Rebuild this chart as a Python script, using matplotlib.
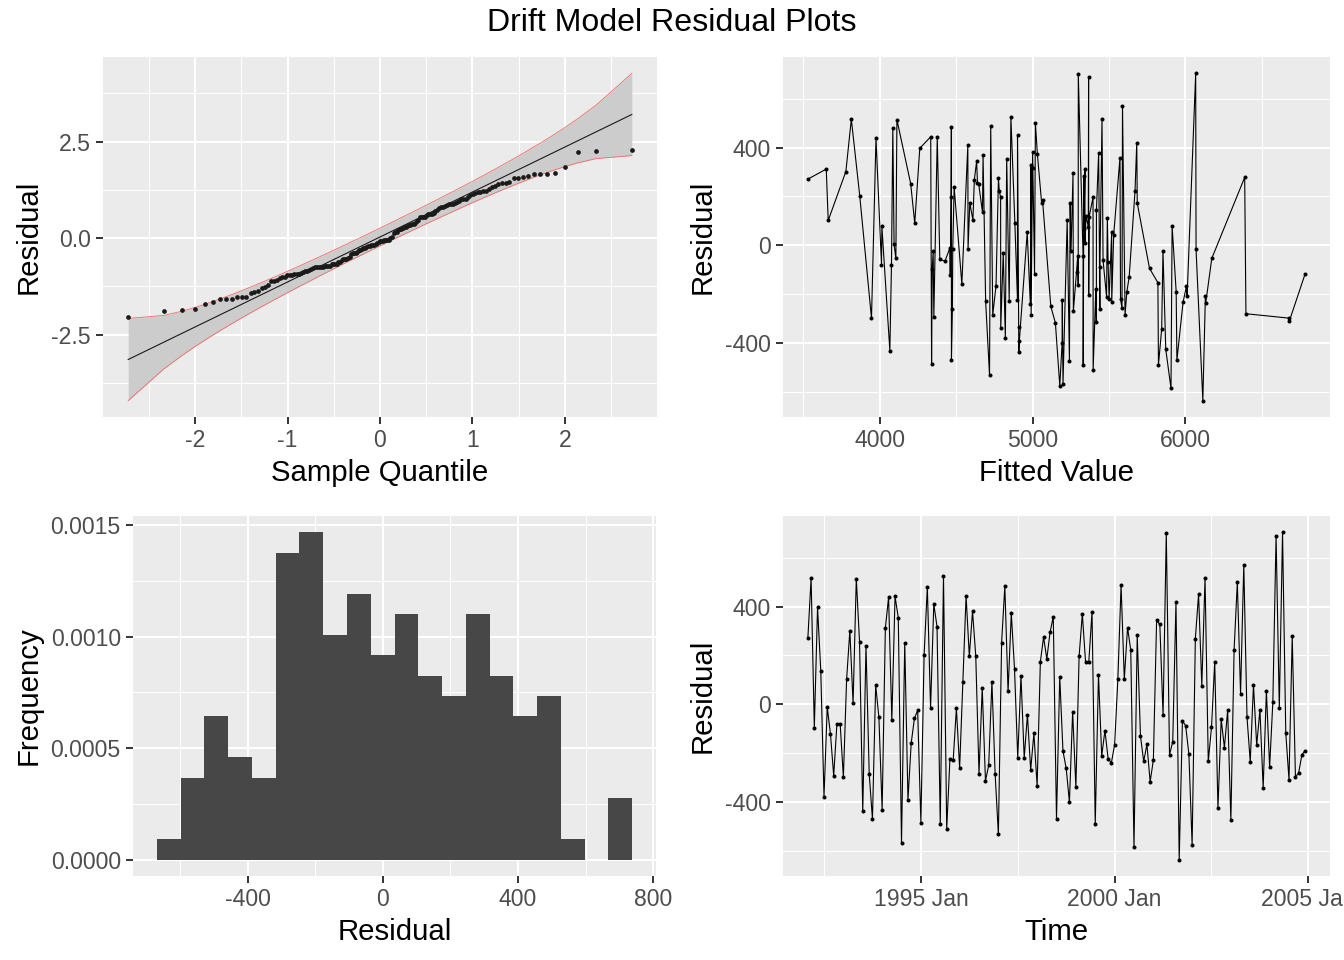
import numpy as np
import matplotlib
matplotlib.use("Agg")
import matplotlib.pyplot as plt
from matplotlib.ticker import FixedLocator, FormatStrFormatter
from statistics import NormalDist

plt.rcParams['font.family'] = ['Liberation Sans', 'DejaVu Sans']
plt.rcParams['axes.unicode_minus'] = False

# ---------------- data ----------------
residuals = [271, 516, -95, 397, 136, -377, -11, -121, -291, -79,
             -79, -297, 102, 302, 5, 514, 257, -437, 239, -284,
             -469, 78, -53, -430, 312, 438, -64, 441, 355, -566,
             253, -390, -158, -57, -24, -484, 203, 479, -15, 410,
             318, -487, 525, -509, -222, -229, -16, -260, 91, 444,
             196, 382, 196, -283, 68, -312, -249, 93, -286, -530,
             253, 483, 53, 373, 144, -219, 117, -219, -42, -268,
             -118, -333, 174, 275, 186, 294, 359, -469, 114, -190,
             -261, -399, -30, -339, 196, 370, 173, 173, 378, -488,
             121, -210, -107, -223, -238, -165, 103, 487, 103, 314,
             222, -584, 283, -128, -233, -163, -316, -227, 343, 327,
             -45, 699, -205, -152, 419, -634, -67, -87, -203, -573,
             269, 450, 76, 517, -233, -94, 173, -424, -61, -176,
             -24, -473, 223, 499, 44, 571, -53, -234, 80, -167,
             -22, -341, 54, -256, 10, 690, -16, 703, -116, -307,
             278, -297, -279, -205, -189]

fitted = [3529.0, 3813.6, 4343.2, 4261.8, 4672.4, 4822.0, 4458.6, 4461.2, 4353.8, 4076.4,
          4011.0, 3945.6, 3662.2, 3777.8, 4093.4, 4112.0, 4639.6, 4910.2, 4486.8, 4739.4,
          4469.0, 4013.6, 4105.2, 4065.8, 3649.4, 3975.0, 4426.6, 4376.2, 4830.8, 5199.4,
          4647.0, 4913.6, 4537.2, 4392.8, 4349.4, 4339.0, 3868.6, 4085.2, 4577.8, 4576.4,
          5000.0, 5331.6, 4858.2, 5396.8, 4901.4, 4693.0, 4477.6, 4475.2, 4228.8, 4333.4,
          4791.0, 5000.6, 5396.2, 5605.8, 5336.4, 5418.0, 5119.6, 4884.2, 4990.8, 4718.4,
          4202.0, 4468.6, 4965.2, 5031.8, 5418.4, 5576.0, 5370.6, 5501.2, 5295.8, 5267.4,
          5013.0, 4908.6, 4589.2, 4776.8, 5065.4, 5265.0, 5572.6, 5945.2, 5489.8, 5617.4,
          5441.0, 5193.6, 4808.2, 4791.8, 4466.4, 4676.0, 5059.6, 5246.2, 5432.8, 5824.4,
          5350.0, 5484.6, 5288.2, 5194.8, 4985.4, 4761.0, 4609.6, 4726.2, 5226.8, 5343.4,
          5671.0, 5906.6, 5336.2, 5632.8, 5518.4, 5299.0, 5149.6, 4847.2, 4633.8, 4990.4,
          5331.0, 5299.6, 6012.2, 5820.8, 5682.4, 6115.0, 5494.6, 5441.2, 5367.8, 5178.4,
          4619.0, 4901.6, 5365.2, 5454.8, 5985.4, 5766.0, 5685.6, 5872.2, 5461.8, 5414.4,
          5252.0, 5241.6, 4782.2, 5018.8, 5531.4, 5589.0, 6173.6, 6134.2, 5913.8, 6007.4,
          5854.0, 5845.6, 5518.2, 5585.8, 5343.4, 5367.0, 6070.6, 6068.2, 6784.8, 6682.4,
          6389.0, 6680.6, 6397.2, 6131.8, 5940.4]

start_year, start_month = 1992, 2          # first residual: 1992 Feb (monthly)
time_ticks = [1995, 2000, 2005]
time_tick_labels = ["1995 Jan", "2000 Jan", "2005 Jan"]
n_bins = 20

# ---------------- derived quantities ----------------
e = np.array(residuals, dtype=float)
n = len(e)
fv = np.array(fitted, dtype=float)
t = start_year + (np.arange(n) + start_month - 1) / 12.0

nd = NormalDist()
std_res = np.sort((e - e.mean()) / e.std(ddof=1))
pp = (np.arange(1, n + 1) - 0.5) / n
zq = np.array([nd.inv_cdf(v) for v in pp])
q25, q75 = np.quantile(std_res, [0.25, 0.75])
z25, z75 = nd.inv_cdf(0.25), nd.inv_cdf(0.75)
slope = (q75 - q25) / (z75 - z25)
intercept = q25 - slope * z25
qq_line = intercept + slope * zq
dens = np.array([nd.pdf(v) for v in zq])
se = slope / dens * np.sqrt(pp * (1 - pp) / n)
crit = nd.inv_cdf(0.975)
band_hi = qq_line + crit * se
band_lo = qq_line - crit * se

bw = (e.max() - e.min()) / (n_bins - 1)
edges = e.min() - bw / 2 + bw * np.arange(n_bins + 1)

# ---------------- figure ----------------
W, H = 1344, 960
fig = plt.figure(figsize=(W / 100, H / 100), dpi=100)
fig.patch.set_facecolor('white')

TICK_FS = 16.6
LAB_FS = 21.2


def add_ax(l, top, r, b):
    return fig.add_axes([l / W, 1 - b / H, (r - l) / W, (b - top) / H])


def style(ax):
    ax.set_facecolor('#EBEBEB')
    for s in ax.spines.values():
        s.set_visible(False)
    ax.grid(which='major', color='white', lw=1.5)
    ax.grid(which='minor', color='white', lw=0.75)
    ax.set_axisbelow(True)
    ax.tick_params(which='major', direction='out', length=5.3, width=1.4,
                   color='#333333', labelcolor='#4D4D4D', labelsize=TICK_FS, pad=3.5)
    ax.tick_params(which='minor', length=0)
    ax.use_sticky_edges = False
    ax.margins(0.05)


# --- top left: QQ plot ---
ax1 = add_ax(103, 57, 657, 417)
style(ax1)
ax1.fill_between(zq, band_lo, band_hi, color='#CCCCCC', lw=0, zorder=2)
ax1.plot(zq, band_hi, color='#F26B6B', lw=0.6, zorder=3)
ax1.plot(zq, band_lo, color='#F26B6B', lw=0.6, zorder=3)
ax1.plot(zq, qq_line, color='#1A1A1A', lw=0.8, zorder=4)
ax1.plot(zq, std_res, 'o', color='#1A1A1A', ms=3.4, mew=0, zorder=5)
ax1.xaxis.set_major_locator(FixedLocator([-2, -1, 0, 1, 2]))
ax1.xaxis.set_minor_locator(FixedLocator([-2.5, -1.5, -0.5, 0.5, 1.5, 2.5]))
ax1.yaxis.set_major_locator(FixedLocator([-2.5, 0, 2.5]))
ax1.yaxis.set_minor_locator(FixedLocator([-3.75, -1.25, 1.25, 3.75]))
ax1.yaxis.set_major_formatter(FormatStrFormatter('%.1f'))
ax1.set_xlabel('Sample Quantile', fontsize=LAB_FS, labelpad=5)
ax1.set_ylabel('Residual', fontsize=LAB_FS, labelpad=6)

# --- top right: residual vs fitted ---
ax2 = add_ax(783, 57, 1330, 417)
style(ax2)
order = np.argsort(fv, kind='stable')
ax2.plot(fv[order], e[order], color='black', lw=0.8, zorder=3)
ax2.plot(fv[order], e[order], 'o', color='black', ms=2.9, mew=0, zorder=4)
ax2.xaxis.set_major_locator(FixedLocator([4000, 5000, 6000]))
ax2.xaxis.set_minor_locator(FixedLocator([3500, 4500, 5500, 6500]))
ax2.yaxis.set_major_locator(FixedLocator([-400, 0, 400]))
ax2.yaxis.set_minor_locator(FixedLocator([-600, -200, 200, 600]))
ax2.set_xlabel('Fitted Value', fontsize=LAB_FS, labelpad=5)
ax2.set_ylabel('Residual', fontsize=LAB_FS, labelpad=6)

# --- bottom left: histogram ---
ax3 = add_ax(133, 516, 656, 876)
style(ax3)
ax3.hist(e, bins=edges, density=True, histtype='stepfilled',
         facecolor='#474747', lw=0, zorder=3)
ax3.xaxis.set_major_locator(FixedLocator([-400, 0, 400, 800]))
ax3.xaxis.set_minor_locator(FixedLocator([-600, -200, 200, 600]))
ax3.yaxis.set_major_locator(FixedLocator([0, 0.0005, 0.0010, 0.0015]))
ax3.yaxis.set_minor_locator(FixedLocator([0.00025, 0.00075, 0.00125]))
ax3.yaxis.set_major_formatter(FormatStrFormatter('%.4f'))
ax3.set_xlabel('Residual', fontsize=LAB_FS, labelpad=5)
ax3.set_ylabel('Frequency', fontsize=LAB_FS, labelpad=6)

# --- bottom right: residual over time ---
ax4 = add_ax(783, 516, 1330, 876)
style(ax4)
ax4.plot(t, e, color='black', lw=0.8, zorder=3)
ax4.plot(t, e, 'o', color='black', ms=2.9, mew=0, zorder=4)
ax4.xaxis.set_major_locator(FixedLocator(time_ticks))
ax4.set_xticklabels(time_tick_labels)
ax4.xaxis.set_minor_locator(FixedLocator([1992.5, 1997.5, 2002.5]))
ax4.yaxis.set_major_locator(FixedLocator([-400, 0, 400]))
ax4.yaxis.set_minor_locator(FixedLocator([-600, -200, 200, 600]))
ax4.set_xlabel('Time', fontsize=LAB_FS, labelpad=5)
ax4.set_ylabel('Residual', fontsize=LAB_FS, labelpad=6)

fig.text(0.5, 1 - 23 / H, 'Drift Model Residual Plots', ha='center', va='center',
         fontsize=23.1, color='black')

fig.savefig('out.png', dpi=100, facecolor='white')
